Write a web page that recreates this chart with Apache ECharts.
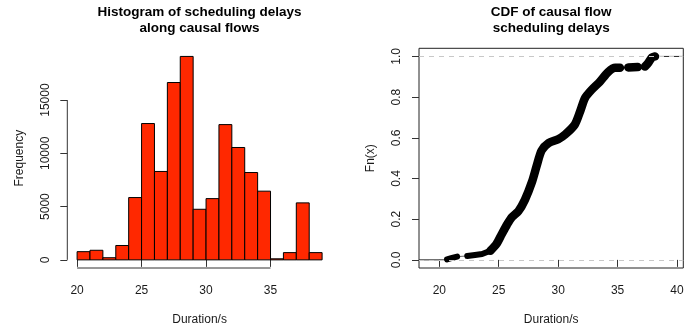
<!DOCTYPE html>
<html><head><meta charset="utf-8">
<script src="https://cdn.jsdelivr.net/npm/echarts@6/dist/echarts.min.js"></script>
<style>html,body{margin:0;padding:0;background:#fff}#c{width:700px;height:331px}</style>
</head><body><div id="c"></div>
<script>
// ---- Histogram data ----
const binStarts = [20,21,22,23,24,25,26,27,28,29,30,31,32,33,34,35,36,37,38];
const binWidth = 1;
const counts = [770,900,200,1350,5850,12800,8300,16650,19100,4750,5750,12700,10550,8200,6450,100,680,5350,680];
const histXTicks = [20,25,30,35];
const histYTicks = [0,5000,10000,15000];

// ---- CDF data ----
const cdfX = [20.65,21.0,21.5,22.35,23.0,23.6,24.3,24.8,25.25,25.7,26.1,26.65,27.2,27.8,28.2,28.6,29.2,30.0,30.6,31.4,31.85,32.25,32.8,33.5,34.2,34.8,35.2,35.9,36.7,37.3,37.6,37.9,38.15];
const cdfY = [0.002,0.008,0.016,0.019,0.024,0.029,0.045,0.077,0.126,0.174,0.21,0.239,0.295,0.384,0.464,0.537,0.574,0.593,0.617,0.665,0.73,0.795,0.835,0.875,0.923,0.944,0.944,0.946,0.948,0.95,0.97,0.995,1.0];
const cdfBreakAfter = [21.5, 35.2, 36.7];
const cdfThinBandUntil = 24.3;
const cdfXTicks = [20,25,30,35,40];
const cdfYTicks = [0,0.2,0.4,0.6,0.8,1.0];

// ---- layout helpers ----
const maxCount = Math.max(...counts);
const span = binStarts[binStarts.length-1]+binWidth-binStarts[0];
const hXMin = binStarts[0] - 0.04*span;
const hXMax = binStarts[binStarts.length-1]+binWidth + 0.04*span;
const hYMin = -0.04*maxCount, hYMax = 1.04*maxCount;
const cXMin = 18.29, cXMax = 40.53, cYMin = -0.04, cYMax = 1.04;

const FONT = 'Liberation Sans, Arial, Helvetica, sans-serif';
const TXT = '#1a1a1a';
const AX = '#333';

const histData = binStarts.map((s,i)=>[s, s+binWidth, counts[i]]);
const bandLow = [], bandMain = [];
cdfX.forEach((x,i)=>{
  const p = [x,cdfY[i]];
  if (x <= cdfThinBandUntil) { bandLow.push(p); if (cdfBreakAfter.includes(x)) bandLow.push('-'); }
  if (x >= cdfThinBandUntil) { bandMain.push(p); if (cdfBreakAfter.includes(x)) bandMain.push('-'); }
});
const thin = cdfX.map((x,i)=>[x,cdfY[i]]);

function xAxisCfg(gi, min, max, ticks, fmt){
  return {type:'value', gridIndex:gi, min, max,
    axisLine:{show:false}, splitLine:{show:false},
    axisTick:{show:true, customValues:ticks, length:7, lineStyle:{color:AX}},
    axisLabel:{show:true, customValues:ticks, margin:17, fontSize:12, color:TXT, fontFamily:FONT, formatter:fmt},
    name:'Duration/s', nameLocation:'middle', nameGap:46,
    nameTextStyle:{fontSize:12, color:TXT, fontFamily:FONT}};
}
function yAxisCfg(gi, min, max, ticks, fmt, name){
  return {type:'value', gridIndex:gi, min, max,
    axisLine:{show:false}, splitLine:{show:false},
    axisTick:{show:true, customValues:ticks, length:7, lineStyle:{color:AX}},
    axisLabel:{show:true, customValues:ticks, margin:16, rotate:90, fontSize:12, color:TXT, fontFamily:FONT, formatter:fmt},
    name, nameLocation:'middle', nameGap:42, nameRotate:90,
    nameTextStyle:{fontSize:12, color:TXT, fontFamily:FONT}};
}
const bandStyle = w => ({color:'#000', width:w, cap:'round', join:'round'});

const chart = echarts.init(document.getElementById('c'), null, {renderer:'canvas'});
chart.setOption({
  animation:false,
  backgroundColor:'#fff',
  title:[
    {text:'Histogram of scheduling delays\nalong causal flows', left:199.5, textAlign:'center', top:4, padding:0,
     textStyle:{fontSize:13.5, fontWeight:'bold', color:'#000', fontFamily:FONT, lineHeight:16.5}},
    {text:'CDF of causal flow\nscheduling delays', left:551.2, textAlign:'center', top:4, padding:0,
     textStyle:{fontSize:13.5, fontWeight:'bold', color:'#000', fontFamily:FONT, lineHeight:16.5}}
  ],
  grid:[
    {left:67.3, top:48.3, width:264.6, height:222.4, show:false},
    {left:419, top:48.3, width:264.3, height:222.4, show:true, borderColor:'#222', borderWidth:1, backgroundColor:'transparent'}
  ],
  xAxis:[
    xAxisCfg(0, hXMin, hXMax, histXTicks, v=>String(v)),
    xAxisCfg(1, cXMin, cXMax, cdfXTicks, v=>String(v))
  ],
  yAxis:[
    yAxisCfg(0, hYMin, hYMax, histYTicks, v=>String(v), 'Frequency'),
    yAxisCfg(1, cYMin, cYMax, cdfYTicks, v=>v.toFixed(1), 'Fn(x)')
  ],
  series:[
    {type:'custom', xAxisIndex:0, yAxisIndex:0, data:histData, clip:false,
     renderItem:(params, api)=>{
       const p0 = api.coord([api.value(0), 0]);
       const p1 = api.coord([api.value(1), api.value(2)]);
       return {type:'rect', shape:{x:p0[0], y:p1[1], width:p1[0]-p0[0], height:p0[1]-p1[1]},
         style:{fill:'#FF2800', stroke:'#000', lineWidth:1}};
     }},
    // histogram axis lines (R style: only spanning tick range)
    {type:'line', xAxisIndex:0, yAxisIndex:0, data:[[histXTicks[0],hYMin],[histXTicks[histXTicks.length-1],hYMin]],
     symbol:'none', clip:false, silent:true, lineStyle:{color:AX, width:1}},
    {type:'line', xAxisIndex:0, yAxisIndex:0, data:[[hXMin,histYTicks[0]],[hXMin,histYTicks[histYTicks.length-1]]],
     symbol:'none', clip:false, silent:true, lineStyle:{color:AX, width:1}},
    // CDF reference lines
    {type:'line', xAxisIndex:1, yAxisIndex:1, data:[[cXMin,0],[cdfX[0],0]], symbol:'none', silent:true,
     lineStyle:{color:'#222', width:1},
     markLine:{silent:true, symbol:'none', label:{show:false},
       lineStyle:{color:'#c8c8c8', type:[5,5], width:1},
       data:[{yAxis:0},{yAxis:1}]}},
    {type:'line', xAxisIndex:1, yAxisIndex:1, data:[[cdfX[cdfX.length-1],1],[cXMax,1]], symbol:'none', silent:true,
     lineStyle:{color:'#222', width:1}},
    {type:'line', xAxisIndex:1, yAxisIndex:1, data:thin, symbol:'none', silent:true,
     lineStyle:{color:'#666', width:1}},
    {type:'line', xAxisIndex:1, yAxisIndex:1, data:bandLow, symbol:'none', silent:true, connectNulls:false,
     lineStyle:bandStyle(6)},
    {type:'line', xAxisIndex:1, yAxisIndex:1, data:bandMain, symbol:'none', silent:true, connectNulls:false, smooth:0.25,
     lineStyle:bandStyle(8.5)}
  ]
});
</script></body></html>
